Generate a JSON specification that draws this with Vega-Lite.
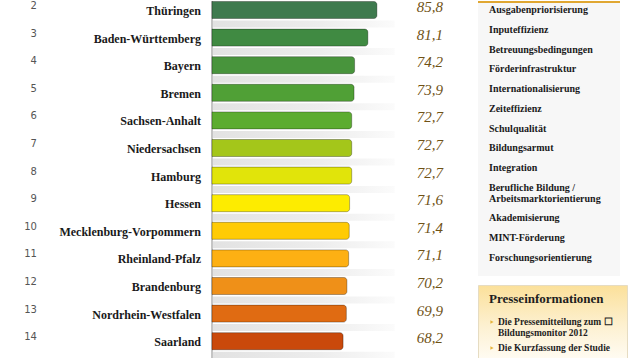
{
  "$schema": "https://vega.github.io/schema/vega-lite/v6.json",
  "padding": 0,
  "spacing": 0,
  "bounds": "flush",
  "background": "#ffffff",
  "config": {
    "view": {"stroke": null},
    "scale": {"continuousPadding": 0},
    "locale": {"number": {"decimal": ",", "thousands": ".", "grouping": [3], "currency": ["", " €"]}}
  },
  "datasets": {
    "states": [
      {"rank": 2, "state": "Thüringen", "value": 85.8},
      {"rank": 3, "state": "Baden-Württemberg", "value": 81.1},
      {"rank": 4, "state": "Bayern", "value": 74.2},
      {"rank": 5, "state": "Bremen", "value": 73.9},
      {"rank": 6, "state": "Sachsen-Anhalt", "value": 72.7},
      {"rank": 7, "state": "Niedersachsen", "value": 72.7},
      {"rank": 8, "state": "Hamburg", "value": 72.7},
      {"rank": 9, "state": "Hessen", "value": 71.6},
      {"rank": 10, "state": "Mecklenburg-Vorpommern", "value": 71.4},
      {"rank": 11, "state": "Rheinland-Pfalz", "value": 71.1},
      {"rank": 12, "state": "Brandenburg", "value": 70.2},
      {"rank": 13, "state": "Nordrhein-Westfalen", "value": 69.9},
      {"rank": 14, "state": "Saarland", "value": 68.2}
    ],
    "themen": [
      {"nr": 1, "label": "Ausgabenpriorisierung"},
      {"nr": 2, "label": "Inputeffizienz"},
      {"nr": 3, "label": "Betreuungsbedingungen"},
      {"nr": 4, "label": "Förderinfrastruktur"},
      {"nr": 5, "label": "Internationalisierung"},
      {"nr": 6, "label": "Zeiteffizienz"},
      {"nr": 7, "label": "Schulqualität"},
      {"nr": 8, "label": "Bildungsarmut"},
      {"nr": 9, "label": "Integration"},
      {"nr": 10, "label": "Berufliche Bildung /\nArbeitsmarktorientierung"},
      {"nr": 11, "label": "Akademisierung"},
      {"nr": 12, "label": "MINT-Förderung"},
      {"nr": 13, "label": "Forschungsorientierung"}
    ],
    "presse": [
      {"nr": 1, "kind": "title", "label": "Presseinformationen"},
      {"nr": 2, "kind": "item", "label": "Die Pressemitteilung zum ☐\nBildungsmonitor 2012"},
      {"nr": 3, "kind": "item", "label": "Die Kurzfassung der Studie"}
    ]
  },
  "hconcat": [
    {
      "width": 478,
      "height": 358,
      "data": {"name": "states"},
      "layer": [
        {
          "mark": {
            "type": "bar", "orient": "horizontal", "size": 7, "yOffset": 14, "clip": true,
            "color": {"gradient": "linear", "x1": 0, "x2": 1, "y1": 0, "y2": 0,
              "stops": [{"offset": 0, "color": "#e2e2e2"}, {"offset": 0.6, "color": "#ededed"}, {"offset": 1, "color": "#fbfbfb"}]}
          },
          "encoding": {
            "x": {"datum": 0, "type": "quantitative", "scale": {"domain": [-110.3, 138.4], "nice": false, "zero": false, "padding": 0}, "axis": null},
            "x2": {"datum": 95},
            "y": {"field": "rank", "type": "quantitative", "scale": {"domain": [1.674, 14.645], "reverse": true, "nice": false, "zero": false, "padding": 0}, "axis": null}
          }
        },
        {
          "mark": {"type": "rule", "color": "#c4c4c4", "strokeWidth": 1, "clip": true},
          "encoding": {"x": {"datum": 0, "type": "quantitative"}}
        },
        {
          "mark": {"type": "bar", "orient": "horizontal", "size": 17, "cornerRadiusEnd": 3},
          "encoding": {
            "x": {"field": "value", "type": "quantitative", "stack": null},
            "y": {"field": "rank", "type": "quantitative"},
            "color": {
              "field": "state", "type": "nominal", "legend": null,
              "scale": {
                "domain": ["Thüringen", "Baden-Württemberg", "Bayern", "Bremen", "Sachsen-Anhalt", "Niedersachsen", "Hamburg", "Hessen", "Mecklenburg-Vorpommern", "Rheinland-Pfalz", "Brandenburg", "Nordrhein-Westfalen", "Saarland"],
                "range": ["#3e7a4e", "#408a42", "#48943c", "#50a036", "#5cac30", "#a4c61a", "#e1e40a", "#fdec00", "#ffcb05", "#fdb013", "#ef9018", "#e06b12", "#ca490b"]
              }
            }
          }
        },
        {
          "mark": {"type": "bar", "orient": "horizontal", "size": 17, "cornerRadiusEnd": 3, "fill": null, "fillOpacity": 0, "stroke": "#000000", "strokeOpacity": 0.3, "strokeWidth": 1},
          "encoding": {
            "x": {"field": "value", "type": "quantitative", "stack": null},
            "y": {"field": "rank", "type": "quantitative"}
          }
        },
        {
          "mark": {"type": "text", "align": "right", "baseline": "middle", "dx": -175, "dy": -4, "font": "DejaVu Sans", "fontSize": 10, "color": "#555555", "clip": true},
          "encoding": {
            "x": {"datum": 0, "type": "quantitative"},
            "y": {"field": "rank", "type": "quantitative"},
            "text": {"field": "rank", "type": "quantitative"}
          }
        },
        {
          "mark": {"type": "text", "align": "right", "baseline": "middle", "dx": -11, "dy": 1, "font": "Liberation Serif", "fontWeight": "bold", "fontSize": 12, "color": "#1a1a1a", "clip": true},
          "encoding": {
            "x": {"datum": 0, "type": "quantitative"},
            "y": {"field": "rank", "type": "quantitative"},
            "text": {"field": "state", "type": "nominal"}
          }
        },
        {
          "mark": {"type": "text", "align": "center", "baseline": "middle", "dx": 218, "dy": -3, "font": "Liberation Serif", "fontStyle": "italic", "fontSize": 15, "color": "#6f5215", "clip": true},
          "encoding": {
            "x": {"datum": 0, "type": "quantitative"},
            "y": {"field": "rank", "type": "quantitative"},
            "text": {"field": "value", "type": "quantitative", "format": ".1f"}
          }
        }
      ]
    },
    {
      "spacing": 8,
      "vconcat": [
        {
          "width": 142,
          "height": 275,
          "view": {"fill": "#f7f7f7", "stroke": null},
          "data": {"name": "themen"},
          "layer": [
            {
              "mark": {"type": "rect", "color": "#e0a732"},
              "encoding": {
                "y": {"datum": 0.5443, "type": "quantitative", "scale": {"domain": [0.5443, 14.468], "reverse": true, "nice": false, "zero": false}, "axis": null},
                "y2": {"datum": 0.6456},
                "x": {"datum": 0, "type": "quantitative", "scale": {"domain": [0, 142], "nice": false, "zero": false}, "axis": null},
                "x2": {"datum": 142}
              }
            },
            {
              "transform": [{"filter": "datum.nr <= 10"}],
              "mark": {"type": "text", "align": "left", "baseline": "middle", "font": "Liberation Serif", "fontWeight": "bold", "fontSize": 10, "lineHeight": 11, "lineBreak": "\n", "color": "#1a1a1a"},
              "encoding": {
                "x": {"datum": 11, "type": "quantitative"},
                "y": {"field": "nr", "type": "quantitative"},
                "text": {"field": "label", "type": "nominal"}
              }
            },
            {
              "transform": [{"filter": "datum.nr > 10"}],
              "mark": {"type": "text", "align": "left", "baseline": "middle", "dy": 10.5, "font": "Liberation Serif", "fontWeight": "bold", "fontSize": 10, "color": "#1a1a1a"},
              "encoding": {
                "x": {"datum": 11, "type": "quantitative"},
                "y": {"field": "nr", "type": "quantitative"},
                "text": {"field": "label", "type": "nominal"}
              }
            }
          ]
        },
        {
          "width": 149,
          "height": 75,
          "view": {
            "stroke": "#e6dcc2",
            "fill": {"gradient": "linear", "x1": 0, "x2": 0, "y1": 0, "y2": 1,
              "stops": [{"offset": 0, "color": "#fbe09a"}, {"offset": 0.55, "color": "#fdf1d2"}, {"offset": 1, "color": "#fffcf4"}]}
          },
          "data": {"name": "presse"},
          "layer": [
            {
              "transform": [{"filter": "datum.kind == 'title'"}],
              "mark": {"type": "text", "align": "left", "baseline": "middle", "font": "Liberation Serif", "fontWeight": "bold", "fontSize": 13, "color": "#1e1e1e"},
              "encoding": {
                "x": {"datum": 11, "type": "quantitative", "scale": {"domain": [0, 149], "nice": false, "zero": false}, "axis": null},
                "y": {"field": "nr", "type": "quantitative", "scale": {"domain": [0.4615, 3.346], "reverse": true, "nice": false, "zero": false}, "axis": null},
                "text": {"field": "label", "type": "nominal"}
              }
            },
            {
              "transform": [{"filter": "datum.kind == 'item'"}],
              "mark": {"type": "point", "shape": "triangle-right", "filled": true, "size": 14, "color": "#e6b43c", "opacity": 1, "yOffset": -3},
              "encoding": {
                "x": {"datum": 14, "type": "quantitative"},
                "y": {"field": "nr", "type": "quantitative"}
              }
            },
            {
              "transform": [{"filter": "datum.kind == 'item'"}],
              "mark": {"type": "text", "align": "left", "baseline": "middle", "dy": -3, "font": "Liberation Serif", "fontWeight": "bold", "fontSize": 9.5, "lineHeight": 11, "lineBreak": "\n", "color": "#1e1e1e"},
              "encoding": {
                "x": {"datum": 20, "type": "quantitative"},
                "y": {"field": "nr", "type": "quantitative"},
                "text": {"field": "label", "type": "nominal"}
              }
            }
          ]
        }
      ]
    }
  ]
}
